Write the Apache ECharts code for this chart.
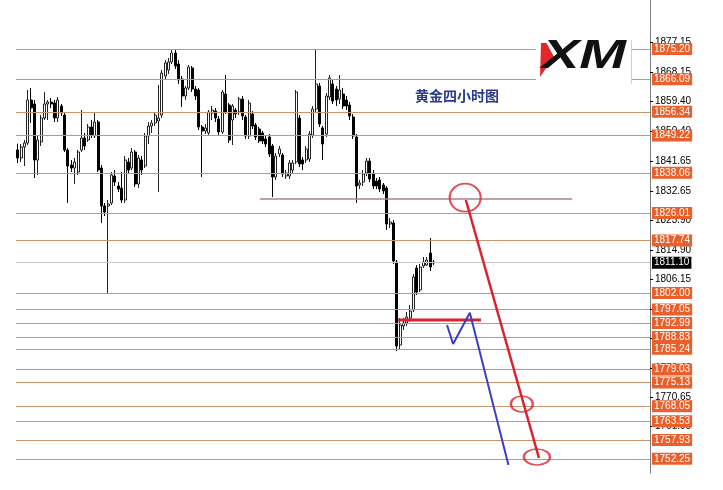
<!DOCTYPE html>
<html><head><meta charset="utf-8">
<script src="https://cdn.jsdelivr.net/npm/echarts@6/dist/echarts.min.js"></script>
<style>html,body{margin:0;padding:0;background:#fff}#c{width:723px;height:490px}</style>
</head><body><div id="c"></div>
<script>
// Candles: [open, close, low, high]
const candles = [
[1844.9,1842.5,1841.0,1846.8],[1842.5,1845.8,1841.3,1846.7],[1845.8,1847.0,1840.1,1847.9],[1847.0,1859.9,1846.4,1862.9],
[1859.9,1857.5,1853.0,1863.5],[1858.7,1841.9,1836.5,1859.9],[1841.9,1847.9,1837.4,1849.4],[1847.3,1854.5,1846.1,1855.4],
[1854.5,1858.7,1853.9,1862.3],[1858.7,1859.3,1853.9,1859.9],[1859.3,1858.7,1857.5,1860.5],[1859.0,1854.5,1853.3,1859.9],
[1854.5,1859.9,1853.3,1860.8],[1858.1,1856.0,1855.1,1858.7],[1855.4,1844.9,1844.3,1856.3],[1844.9,1840.1,1829.0,1845.5],
[1840.4,1839.5,1838.3,1841.9],[1839.5,1841.3,1834.7,1842.5],[1838.3,1844.3,1837.4,1844.9],[1844.9,1848.5,1844.3,1856.9],
[1848.5,1846.1,1844.9,1850.0],[1847.9,1851.8,1847.3,1852.7],[1851.8,1849.4,1848.5,1853.9],[1849.1,1853.3,1848.5,1856.3],
[1853.3,1838.9,1838.3,1853.9],[1839.5,1828.1,1823.0,1840.4],[1828.1,1826.3,1825.1,1829.0],[1828.1,1828.7,1802.0,1829.9],
[1829.0,1837.4,1828.4,1838.3],[1837.1,1835.3,1834.1,1838.9],[1834.1,1833.2,1832.3,1835.3],[1833.5,1829.9,1829.0,1838.3],
[1829.9,1841.9,1829.0,1843.1],[1841.3,1838.9,1837.7,1842.5],[1839.5,1844.3,1838.9,1845.5],[1844.3,1834.7,1833.8,1844.9],
[1834.7,1842.5,1833.5,1843.4],[1841.9,1838.9,1837.4,1843.1],[1840.1,1849.1,1839.5,1850.0],[1849.1,1852.1,1846.7,1853.3],
[1852.1,1853.0,1850.0,1853.9],[1853.0,1855.4,1852.1,1856.3],[1853.6,1854.5,1832.3,1864.4],[1855.4,1868.0,1854.5,1868.9],
[1867.1,1871.0,1865.9,1871.9],[1868.9,1871.3,1867.7,1872.5],[1871.3,1874.0,1870.7,1874.9],[1874.0,1870.1,1869.2,1874.9],
[1870.7,1865.9,1864.7,1871.9],[1866.2,1861.1,1857.8,1867.1],[1861.1,1863.5,1859.9,1864.1],[1863.5,1869.8,1862.9,1870.4],
[1869.5,1863.2,1862.3,1870.1],[1863.2,1861.1,1859.9,1864.1],[1862.9,1851.8,1850.9,1863.5],[1851.8,1850.6,1836.8,1852.4],
[1850.6,1851.5,1849.7,1852.7],[1850.0,1856.3,1849.4,1856.9],[1856.0,1856.9,1853.9,1858.1],[1856.6,1854.5,1853.3,1857.5],
[1854.2,1850.3,1849.4,1855.1],[1850.3,1862.3,1849.7,1862.9],[1861.7,1856.3,1855.7,1867.4],[1858.4,1847.9,1847.0,1859.0],
[1853.9,1858.1,1846.4,1858.7],[1856.9,1855.7,1854.5,1857.5],[1856.3,1860.2,1855.4,1860.8],[1860.2,1855.1,1853.9,1861.1],
[1854.8,1849.1,1848.2,1855.4],[1849.1,1859.0,1848.2,1859.9],[1855.7,1852.1,1851.2,1856.6],[1852.4,1848.8,1847.9,1853.0],
[1851.2,1847.6,1847.0,1851.8],[1850.0,1847.6,1846.7,1850.6],[1848.2,1846.7,1845.8,1849.1],[1848.8,1843.7,1842.8,1849.7],
[1846.1,1836.8,1830.8,1846.7],[1836.8,1843.1,1835.9,1844.0],[1843.7,1845.2,1842.8,1846.1],[1843.4,1837.7,1836.8,1844.0],
[1837.1,1838.0,1836.2,1838.9],[1837.1,1841.0,1836.2,1841.9],[1838.9,1841.0,1837.7,1841.9],[1841.3,1862.3,1840.7,1862.9],
[1854.5,1840.7,1839.8,1855.4],[1841.9,1840.7,1838.9,1842.8],[1841.9,1845.2,1841.0,1846.1],[1842.2,1849.7,1841.3,1850.6],
[1849.4,1857.2,1848.5,1858.1],[1857.2,1864.7,1856.3,1874.9],[1864.1,1852.7,1851.8,1865.0],[1851.5,1846.7,1841.9,1852.1],
[1849.7,1861.1,1848.8,1862.0],[1860.8,1866.5,1859.9,1867.4],[1864.7,1859.6,1858.7,1865.9],[1863.2,1859.9,1858.1,1864.1],
[1860.2,1862.9,1858.7,1867.4],[1861.7,1858.1,1857.2,1863.5],[1859.9,1858.1,1856.9,1861.1],[1858.4,1855.1,1853.9,1859.3],
[1854.8,1849.1,1848.2,1855.7],[1848.8,1834.1,1829.0,1849.7],[1834.4,1835.0,1833.2,1835.9],[1835.3,1837.7,1834.1,1838.9],
[1838.0,1841.6,1837.1,1842.5],[1841.6,1836.2,1835.3,1842.5],[1837.7,1834.1,1833.2,1838.9],[1835.6,1834.1,1833.2,1836.5],
[1835.9,1833.2,1832.3,1836.8],[1834.4,1832.6,1831.7,1835.0],[1833.5,1822.7,1820.9,1834.1],[1822.7,1823.3,1821.5,1824.5],
[1823.0,1811.6,1810.7,1823.9],[1811.3,1786.1,1784.6,1811.9],[1786.4,1792.4,1785.2,1794.5],[1792.1,1793.0,1790.9,1794.5],
[1793.0,1794.8,1792.1,1796.3],[1794.5,1796.6,1793.3,1798.4],[1796.9,1806.8,1796.3,1807.7],[1809.5,1802.3,1801.4,1810.4],
[1802.9,1809.8,1802.3,1810.7],[1810.1,1811.3,1809.5,1812.8],[1810.4,1811.9,1810.1,1812.8],[1814.0,1809.8,1808.6,1818.5],
[1811.3,1811.0,1810.4,1811.9]
];
const barSlots = 189; // candle slots on the time axis (including empty future space)
const levels = [1875.20,1866.09,1856.34,1849.22,1838.06,1826.01,1817.74,1802.00,1797.05,1792.99,1788.83,1785.24,1779.03,1775.13,1768.05,1763.53,1757.93,1752.25];
const currentPrice = 1811.10;
const yTickLabels = [1877.15,1868.15,1859.40,1850.40,1841.65,1832.65,1823.90,1814.90,1806.15,1797.15,1788.40,1779.40,1770.65,1761.90];
// Hand-drawn annotations, in [bar index, price]
const supportLine = [[72.2,1830.2],[165.3,1830.2]];
const redBase = [[113.4,1793.9],[138.1,1793.9]];
const redPath = [[133.6,1829.9],[155.4,1752.5]];
const bluePath = [[128.0,1792.4],[129.8,1786.7],[134.8,1796.1],[146.3,1750.4]];
const circles = [[133.4,1830.6],[150.3,1768.7],[154.8,1752.8]];
const circleSizes = [[31,28],[22,16],[26,16]];
const title = '黄金四小时图';

const categories = [];
for (let i = 0; i < barSlots; i++) categories.push(String(i + 1));

const chart = echarts.init(document.getElementById('c'));
const lineColor = '#c8946c';
const labelBg = '#e8612c';
const markData = levels.map(v => ({yAxis: v, lineStyle: {color: lineColor}, label: {backgroundColor: labelBg}}));
markData.push({yAxis: currentPrice, lineStyle: {color: '#c8c8c8'}, label: {backgroundColor: '#000'}});

chart.setOption({
  animation: false,
  grid: {left: 16, right: 73, top: 0, bottom: 17},
  xAxis: [
    {type: 'category', data: categories, boundaryGap: true, show: false},
    {type: 'value', min: -0.5, max: barSlots - 0.5, show: false}
  ],
  yAxis: {
    type: 'value', position: 'right', min: 1748.0, max: 1889.9,
    splitLine: {show: false},
    axisLine: {show: true, onZero: false, lineStyle: {color: '#7a7a7a', width: 1}},
    axisTick: {show: true, length: 3, customValues: yTickLabels, lineStyle: {color: '#000'}},
    axisLabel: {customValues: yTickLabels, formatter: v => v.toFixed(2), color: '#000', fontSize: 10, fontFamily: 'Liberation Sans', margin: 5}
  },
  series: [
    {
      type: 'candlestick', data: candles, xAxisIndex: 0, barWidth: 2.5,
      itemStyle: {color: '#ffffff', color0: '#000000', borderColor: '#222222', borderColor0: '#000000', borderWidth: 1},
      markLine: {
        silent: true, symbol: ['none', 'none'], animation: false,
        lineStyle: {type: 'solid', width: 1},
        label: {show: true, position: 'end', distance: 2, formatter: p => p.value.toFixed(2), color: '#fff',
                fontSize: 10, fontFamily: 'Liberation Sans', padding: [1, 2, 0, 2], lineHeight: 11},
        data: markData
      },
      z: 3
    },
    {type: 'line', xAxisIndex: 1, data: supportLine, showSymbol: false, symbol: 'none', lineStyle: {color: '#b58089', width: 1.5}, z: 4},
    {type: 'line', xAxisIndex: 1, data: redBase, showSymbol: false, symbol: 'none', lineStyle: {color: '#d9232e', width: 3}, z: 5},
    {type: 'line', xAxisIndex: 1, data: redPath, showSymbol: false, symbol: 'none', lineStyle: {color: '#d9232e', width: 2.5}, z: 5},
    {type: 'line', xAxisIndex: 1, data: bluePath, showSymbol: false, symbol: 'none', lineStyle: {color: '#3a3fc2', width: 2}, z: 5},
    {type: 'scatter', xAxisIndex: 1, data: circles.map((c, i) => ({value: c, symbolSize: circleSizes[i]})),
     symbol: 'circle', itemStyle: {color: 'rgba(0,0,0,0)', borderColor: '#d9232e', borderWidth: 2}, z: 6, silent: true}
  ],
  graphic: [
    {type: 'rect', z: 100, shape: {x: 536, y: 35, width: 96, height: 52}, style: {fill: '#fff'}},
    {type: 'line', z: 100, shape: {x1: 631.5, y1: 40, x2: 631.5, y2: 84}, style: {stroke: '#d0d0d0', lineWidth: 1}},
    {type: 'polygon', z: 101, shape: {points: [[541, 43], [546.5, 43], [554, 57], [540, 77]]}, style: {fill: '#e3262b'}},
    {type: 'text', z: 101, x: 542, y: 37, scaleX: 1.4, style: {text: 'XM', fill: '#111', font: 'italic 900 40px "Liberation Sans"', textVerticalAlign: 'top'}},
    {type: 'text', z: 101, x: 415, y: 89, style: {text: title, fill: '#2a3a8c', font: 'bold 14px "Noto Sans CJK SC"', textVerticalAlign: 'top'}}
  ]
});
</script></body></html>
